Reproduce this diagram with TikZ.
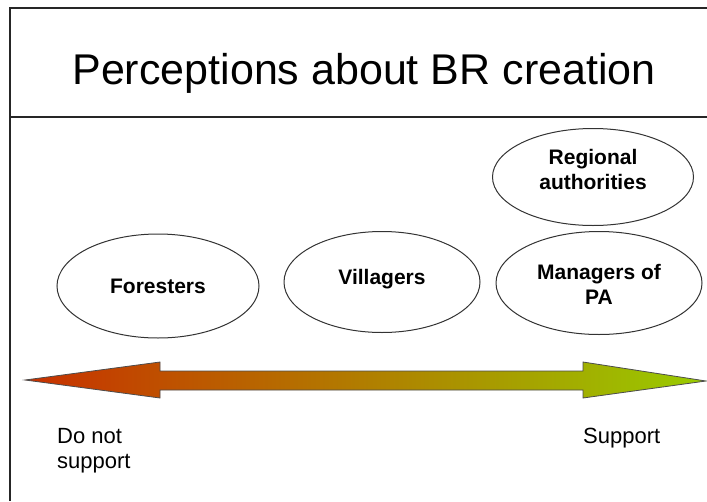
\documentclass[tikz,border=0pt]{standalone}
\usepackage{fontspec}
\setmainfont{Liberation Sans}
\usetikzlibrary{shapes.geometric}
\definecolor{arrowred}{RGB}{200,48,0}
\definecolor{arrowgreen}{RGB}{153,204,0}
\newcommand{\liftup}[2]{\raisebox{#1}[\height][\depth]{#2}}
\tikzset{
  frameline/.style={draw=black!85, line width=1.5pt},
  oval/.style={ellipse, draw=black!80, line width=1pt, inner sep=0pt, align=center,
    font=\fontsize{21}{25}\selectfont\bfseries},
  lbl/.style={font=\fontsize{22}{25}\selectfont, align=left, inner sep=0pt}
}
\begin{document}
\begin{tikzpicture}[x=1pt,y=-1pt]
\useasboundingbox (0,0) rectangle (707,501);
\fill[white] (0,0) rectangle (707,501);
% frame
\draw[frameline] (10,501) -- (10,8) -- (707,8);
\draw[frameline] (10,117) -- (707,117);
\node[font=\fontsize{43}{50}\selectfont, inner sep=0pt] (title) at (364,73) {Perceptions about BR creation};
% ellipses
\node[oval, minimum width=202pt, minimum height=104pt] (for) at (158,286) {Foresters};
\node[oval, minimum width=196pt, minimum height=101pt] (vil) at (382,282) {\liftup{3pt}{Villagers}};
\node[oval, minimum width=206pt, minimum height=103pt] (man) at (599,283) {\liftup{-4pt}{\begin{tabular}{@{}c@{}}Managers of\\PA\end{tabular}}};
\node[oval, minimum width=201pt, minimum height=97pt] (reg) at (593,177) {\liftup{5pt}{\begin{tabular}{@{}c@{}}Regional\\authorities\end{tabular}}};
% gradient double arrow
\shade[left color=arrowred, right color=arrowgreen, draw=black!70, line width=0.8pt]
  (25,380) -- (160,362) -- (160,371) -- (583,371) -- (583,362) -- (706,381)
  -- (583,398) -- (583,390) -- (160,390) -- (160,398) -- cycle;
\node[lbl, anchor=north west] (no) at (57,428) {Do not\\support};
\node[lbl, anchor=north west] (yes) at (583,428) {Support};
\end{tikzpicture}
\end{document}
